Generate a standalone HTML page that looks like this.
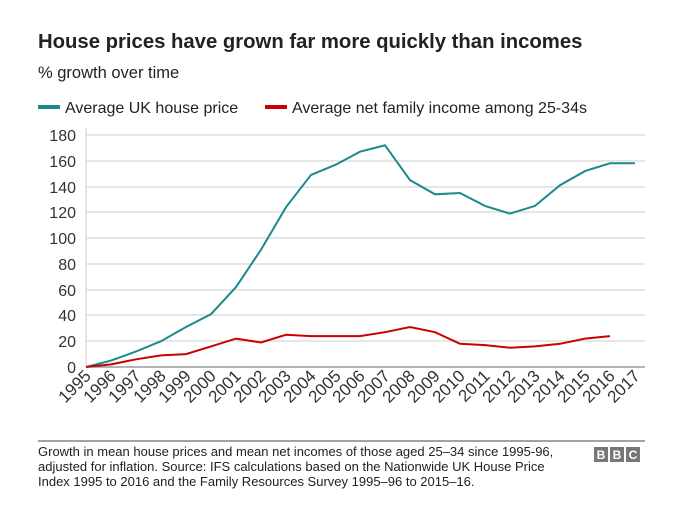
<!DOCTYPE html>
<html><head><meta charset="utf-8"><style>
body{margin:0;background:#fff;width:691px;height:514px;overflow:hidden;font-family:"Liberation Sans",Arial,sans-serif}
</style></head><body>
<svg width="691" height="514" xmlns="http://www.w3.org/2000/svg" font-family="Liberation Sans, Arial, sans-serif">
<text x="38" y="48" font-size="20.3" font-weight="bold" fill="#222">House prices have grown far more quickly than incomes</text>
<text x="38" y="78" font-size="16.5" fill="#222">% growth over time</text>
<rect x="38" y="105" width="22" height="4" fill="#1a8a8a"/>
<text x="65" y="113" font-size="16" fill="#222">Average UK house price</text>
<rect x="265" y="105" width="22" height="4" fill="#c00"/>
<text x="292" y="113" font-size="16" fill="#222">Average net family income among 25-34s</text>
<g stroke="#ddd" stroke-width="1.5">
<line x1="86" x2="645" y1="135" y2="135"/><line x1="86" x2="645" y1="161" y2="161"/><line x1="86" x2="645" y1="187" y2="187"/><line x1="86" x2="645" y1="212" y2="212"/><line x1="86" x2="645" y1="238" y2="238"/><line x1="86" x2="645" y1="264" y2="264"/><line x1="86" x2="645" y1="290" y2="290"/><line x1="86" x2="645" y1="315" y2="315"/><line x1="86" x2="645" y1="341" y2="341"/>
<line x1="86" x2="86" y1="128" y2="367"/>
</g>
<line x1="86" x2="645" y1="367" y2="367" stroke="#888" stroke-width="1.2"/>
<g font-size="16" fill="#333" text-anchor="end">
<text x="76" y="141">180</text><text x="76" y="167">160</text><text x="76" y="193">140</text><text x="76" y="218">120</text><text x="76" y="244">100</text><text x="76" y="270">80</text><text x="76" y="296">60</text><text x="76" y="321">40</text><text x="76" y="347">20</text><text x="76" y="373">0</text>
</g>
<g font-size="17" fill="#333" text-anchor="end">
<text x="92" y="377" transform="rotate(-45 92 377)">1995</text>
<text x="117" y="377" transform="rotate(-45 117 377)">1996</text>
<text x="142" y="377" transform="rotate(-45 142 377)">1997</text>
<text x="167" y="377" transform="rotate(-45 167 377)">1998</text>
<text x="192" y="377" transform="rotate(-45 192 377)">1999</text>
<text x="217" y="377" transform="rotate(-45 217 377)">2000</text>
<text x="242" y="377" transform="rotate(-45 242 377)">2001</text>
<text x="267" y="377" transform="rotate(-45 267 377)">2002</text>
<text x="292" y="377" transform="rotate(-45 292 377)">2003</text>
<text x="317" y="377" transform="rotate(-45 317 377)">2004</text>
<text x="342" y="377" transform="rotate(-45 342 377)">2005</text>
<text x="366" y="377" transform="rotate(-45 366 377)">2006</text>
<text x="391" y="377" transform="rotate(-45 391 377)">2007</text>
<text x="416" y="377" transform="rotate(-45 416 377)">2008</text>
<text x="441" y="377" transform="rotate(-45 441 377)">2009</text>
<text x="466" y="377" transform="rotate(-45 466 377)">2010</text>
<text x="491" y="377" transform="rotate(-45 491 377)">2011</text>
<text x="516" y="377" transform="rotate(-45 516 377)">2012</text>
<text x="541" y="377" transform="rotate(-45 541 377)">2013</text>
<text x="566" y="377" transform="rotate(-45 566 377)">2014</text>
<text x="591" y="377" transform="rotate(-45 591 377)">2015</text>
<text x="616" y="377" transform="rotate(-45 616 377)">2016</text>
<text x="641" y="377" transform="rotate(-45 641 377)">2017</text>
</g>
<polyline fill="none" stroke="#1a8a8a" stroke-width="2" points="86,367 111,360.6 136,351.5 161,341.2 186,327 211,314.2 236,287.1 261,249.7 286,207.2 311,174.9 336,164.6 360,151.7 385,145.3 410,180.1 435,194.3 460,193 485,205.9 510,213.6 535,205.9 560,185.2 585,171.1 610,163.3 635,163.3"/>
<polyline fill="none" stroke="#c00" stroke-width="2" points="86,367 111,364.4 136,359.3 161,355.4 186,354.1 211,346.4 236,338.6 261,342.5 286,334.8 311,336.1 336,336.1 360,336.1 385,332.2 410,327 435,332.2 460,343.8 485,345.1 510,347.7 535,346.4 560,343.8 585,338.6 610,336.1"/>
<line x1="38" x2="645" y1="441" y2="441" stroke="#444" stroke-width="1"/>
<g font-size="13" fill="#222">
<text x="38" y="456">Growth in mean house prices and mean net incomes of those aged 25–34 since 1995-96,</text>
<text x="38" y="471">adjusted for inflation. Source: IFS calculations based on the Nationwide UK House Price</text>
<text x="38" y="486">Index 1995 to 2016 and the Family Resources Survey 1995–96 to 2015–16.</text>
</g>
<g fill="#777"><rect x="594" y="447" width="14" height="15"/><rect x="610" y="447" width="14" height="15"/><rect x="626" y="447" width="14" height="15"/></g>
<g fill="#fff" font-size="12" font-weight="bold" text-anchor="middle"><text x="601" y="459">B</text><text x="617" y="459">B</text><text x="633" y="459">C</text></g>
</svg>
</body></html>
